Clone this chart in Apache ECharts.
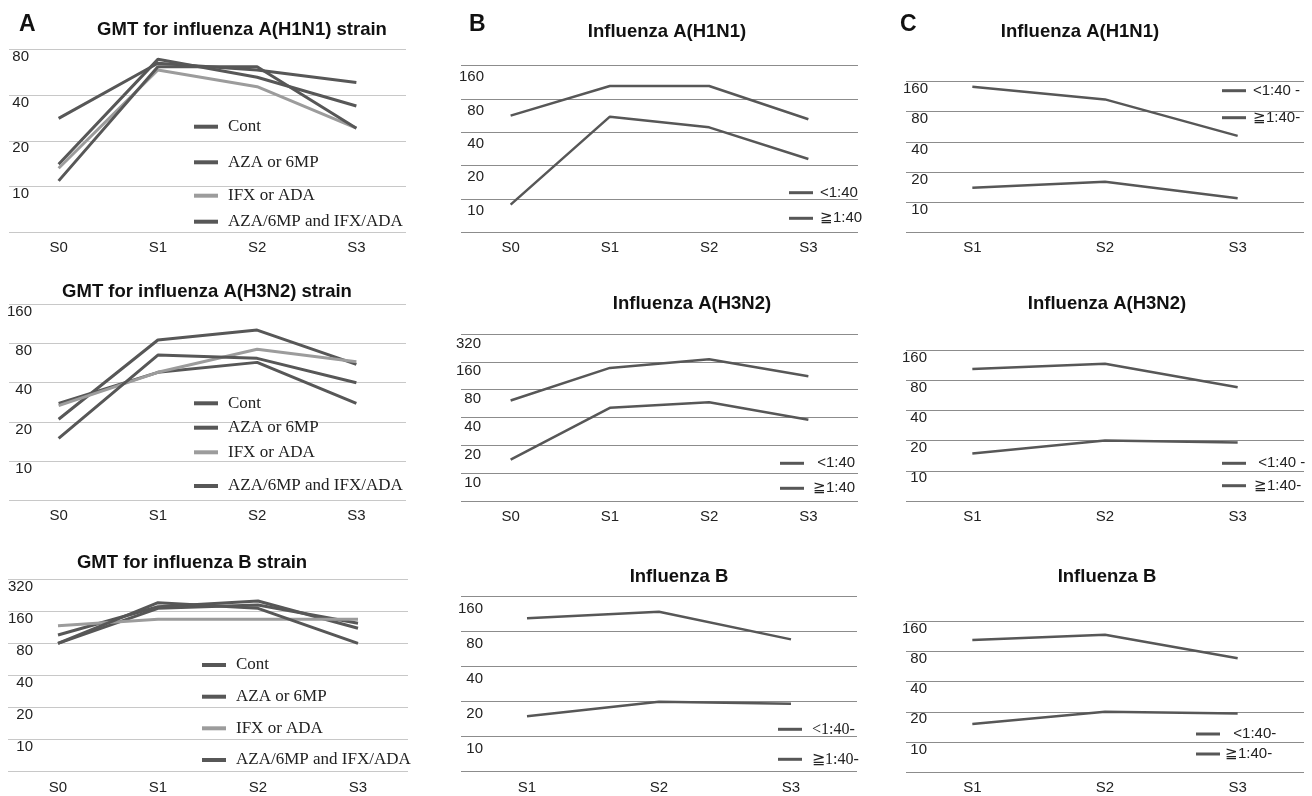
<!DOCTYPE html>
<html><head><meta charset="utf-8">
<script src="https://cdn.jsdelivr.net/npm/echarts@6/dist/echarts.min.js"></script>
<style>html,body{margin:0;padding:0;background:#fff}#c{width:1312px;height:796px}</style>
</head><body><div id="c"></div>
<script>
// ---------- data ----------
const catS0 = ['S0', 'S1', 'S2', 'S3'];
const catS1 = ['S1', 'S2', 'S3'];
const groupNames = ['Cont', 'AZA or 6MP', 'IFX or ADA', 'AZA/6MP and IFX/ADA'];
const titerNames = ['<1:40', '≧1:40'];

const ticks80 = ['', '10', '20', '40', '80'];
const ticks160 = ['', '10', '20', '40', '80', '160'];
const ticks320 = ['', '10', '20', '40', '80', '160', '320'];

// A: GMT by treatment group
const a1Cont = [28.1, 64.7, 58.5, 48.3];
const a1Aza = [14.0, 68.7, 52.4, 33.9];
const a1Ifx = [13.2, 58.5, 45.4, 24.2];
const a1Combo = [10.9, 61.5, 61.5, 24.2];

const a2Cont = [27.8, 48.0, 57.2, 27.8];
const a2Aza = [21.0, 84.8, 101, 55.3];
const a2Ifx = [26.7, 48.0, 72.0, 57.9];
const a2Combo = [15.0, 65.1, 61.4, 40];

const a3Cont = [80, 171, 184, 124];
const a3Aza = [96, 177, 200, 111];
const a3Ifx = [117, 135, 135, 135];
const a3Combo = [80, 193, 171, 80];

// B: by baseline titer
const b1Low = [8.9, 55.4, 44.4, 23.0];
const b1High = [56.6, 104.9, 104.9, 52.5];
const b2Low = [14.0, 50.9, 58.6, 37.8];
const b2High = [61.1, 137.5, 170.6, 111.8];
const b3Low = [15.0, 20.0, 19.2];
const b3High = [104.2, 118.9, 68.7];

// C
const c1Low = [14.0, 16.0, 11.0];
const c1High = [141.7, 106.1, 45.9];
const c2Low = [14.9, 20.0, 19.1];
const c2High = [103.4, 116.9, 67.9];
const c3Low = [15.1, 20.0, 19.2];
const c3High = [103.5, 117.0, 68.1];

// ---------- styling / layout ----------
const DARK = '#575757', LIGHT = '#9c9c9c';
const GRID_A = '#c8c8c8', GRID_BC = '#8c8c8c';
const lg = v => Math.log2(v / 5);

const panels = [
  { box: [9, 49.3, 397, 183], cats: catS0, ticks: ticks80, gc: GRID_A, lw: 3, ym: 20, yp: 0, xm: 8,
    series: [[groupNames[0], a1Cont, DARK], [groupNames[1], a1Aza, DARK], [groupNames[2], a1Ifx, LIGHT], [groupNames[3], a1Combo, DARK]] },
  { box: [9, 304, 397, 196.7], cats: catS0, ticks: ticks160, gc: GRID_A, lw: 3, ym: 23, yp: 0, xm: 8,
    series: [[groupNames[0], a2Cont, DARK], [groupNames[1], a2Aza, DARK], [groupNames[2], a2Ifx, LIGHT], [groupNames[3], a2Combo, DARK]] },
  { box: [8, 579.3, 400, 192.4], cats: catS0, ticks: ticks320, gc: GRID_A, lw: 3, ym: 25, yp: 0, xm: 9,
    series: [[groupNames[0], a3Cont, DARK], [groupNames[1], a3Aza, DARK], [groupNames[2], a3Ifx, LIGHT], [groupNames[3], a3Combo, DARK]] },
  { box: [461, 65.7, 397, 166.6], cats: catS0, ticks: ticks160, gc: GRID_BC, lw: 2.5, ym: 23, yp: 4, xm: 8,
    series: [[titerNames[0], b1Low, DARK], [titerNames[1], b1High, DARK]] },
  { box: [461, 334, 397, 167], cats: catS0, ticks: ticks320, gc: GRID_BC, lw: 2.5, ym: 20, yp: 2, xm: 8,
    series: [[titerNames[0], b2Low, DARK], [titerNames[1], b2High, DARK]] },
  { box: [461, 596.7, 396, 175], cats: catS1, ticks: ticks160, gc: GRID_BC, lw: 2.5, ym: 22, yp: 5, xm: 9,
    series: [[titerNames[0], b3Low, DARK], [titerNames[1], b3High, DARK]] },
  { box: [906, 81.5, 398, 151], cats: catS1, ticks: ticks160, gc: GRID_BC, lw: 2.5, ym: 22, yp: 0, xm: 8,
    series: [[titerNames[0], c1Low, DARK], [titerNames[1], c1High, DARK]] },
  { box: [906, 350, 398, 151], cats: catS1, ticks: ticks160, gc: GRID_BC, lw: 2.5, ym: 21, yp: 0, xm: 8,
    series: [[titerNames[0], c2Low, DARK], [titerNames[1], c2High, DARK]] },
  { box: [906, 621, 398, 151.3], cats: catS1, ticks: ticks160, gc: GRID_BC, lw: 2.5, ym: 21, yp: 0, xm: 8,
    series: [[titerNames[0], c3Low, DARK], [titerNames[1], c3High, DARK]] }
];

const grid = [], xAxis = [], yAxis = [], series = [];
panels.forEach((p, i) => {
  grid.push({ left: p.box[0], top: p.box[1], width: p.box[2], height: p.box[3], containLabel: false });
  xAxis.push({ type: 'category', gridIndex: i, data: p.cats, boundaryGap: true,
    axisLine: { show: false }, axisTick: { show: false },
    axisLabel: { margin: p.xm, fontSize: 15, color: '#222', fontFamily: 'Liberation Sans' } });
  yAxis.push({ type: 'value', gridIndex: i, min: 0, max: p.ticks.length - 1, interval: 1,
    axisLine: { show: false }, axisTick: { show: false },
    splitLine: { show: true, lineStyle: { color: p.gc, width: 1.2 } },
    axisLabel: { inside: true, align: 'right', verticalAlign: 'top', margin: p.ym, padding: [p.yp, 0, 0, 0],
      fontSize: 15, color: '#222', fontFamily: 'Liberation Sans',
      formatter: v => p.ticks[Math.round(v)] || '' } });
  p.series.forEach(s => series.push({ type: 'line', name: s[0], xAxisIndex: i, yAxisIndex: i,
    data: s[1].map(lg), symbol: 'none', silent: true,
    lineStyle: { color: s[2], width: p.lw }, itemStyle: { color: s[2] } }));
});

const titleStyle = { fontSize: 18.5, fontWeight: 'bold', fontFamily: 'Liberation Sans', color: '#111' };
const letterStyle = { fontSize: 23, fontWeight: 'bold', fontFamily: 'Liberation Sans', color: '#111' };
const title = [
  { text: 'A', left: 19, top: 13, padding: 0, textStyle: letterStyle },
  { text: 'B', left: 469, top: 13, padding: 0, textStyle: letterStyle },
  { text: 'C', left: 900, top: 13, padding: 0, textStyle: letterStyle },
  { text: 'GMT for influenza A(H1N1) strain', left: 242, top: 20, textAlign: 'center', padding: 0, textStyle: titleStyle },
  { text: 'GMT for influenza A(H3N2) strain', left: 207, top: 282.5, textAlign: 'center', padding: 0, textStyle: titleStyle },
  { text: 'GMT for influenza B strain', left: 192, top: 553.5, textAlign: 'center', padding: 0, textStyle: titleStyle },
  { text: 'Influenza A(H1N1)', left: 667, top: 22.5, textAlign: 'center', padding: 0, textStyle: titleStyle },
  { text: 'Influenza A(H3N2)', left: 692, top: 294, textAlign: 'center', padding: 0, textStyle: titleStyle },
  { text: 'Influenza B', left: 679, top: 567, textAlign: 'center', padding: 0, textStyle: titleStyle },
  { text: 'Influenza A(H1N1)', left: 1080, top: 22.5, textAlign: 'center', padding: 0, textStyle: titleStyle },
  { text: 'Influenza A(H3N2)', left: 1107, top: 294, textAlign: 'center', padding: 0, textStyle: titleStyle },
  { text: 'Influenza B', left: 1107, top: 567, textAlign: 'center', padding: 0, textStyle: titleStyle }
];

const legendSpecs = [
  { names: groupNames, left: 194, centers: [126.7, 162.3, 195.7, 221.7], font: 'Liberation Serif', size: 17, pad: 5, ih: 4, labels: groupNames },
  { names: groupNames, left: 194, centers: [403.3, 427.7, 452.3, 486], font: 'Liberation Serif', size: 17, pad: 5, ih: 4, labels: groupNames },
  { names: groupNames, left: 202, centers: [665, 696.7, 728.3, 760], font: 'Liberation Serif', size: 17, pad: 5, ih: 4, labels: groupNames },
  { names: titerNames, left: 789, centers: [192.7, 218.3], font: 'Liberation Sans', size: 15, pad: 2, ih: 3, labels: ['<1:40', '≧1:40'] },
  { names: titerNames, left: 780, centers: [463.3, 488.3], font: 'Liberation Sans', size: 15, pad: 4, ih: 3, labels: [' <1:40', '≧1:40'] },
  { names: titerNames, left: 778, centers: [729.3, 759.3], font: 'Liberation Serif', size: 16, pad: 5, ih: 3, labels: ['<1:40-', '≧1:40-'] },
  { names: titerNames, left: 1222, centers: [90.7, 117.7], font: 'Liberation Sans', size: 15, pad: 2, ih: 3, labels: ['<1:40 -', '≧1:40-'] },
  { names: titerNames, left: 1222, centers: [463.3, 485.7], font: 'Liberation Sans', size: 15, pad: 3, ih: 3, labels: [' <1:40 -', '≧1:40-'] },
  { names: titerNames, left: 1196, centers: [734, 754], font: 'Liberation Sans', size: 15, pad: 0, ih: 3, labels: ['  <1:40-', '≧1:40-'] }
];
const legend = [];
legendSpecs.forEach(L => {
  L.names.forEach((n, k) => {
    legend.push({ data: [n], left: L.left, top: L.centers[k] - L.size / 2, orient: 'vertical', padding: 0,
      itemWidth: 24, itemHeight: L.ih, icon: 'rect', selectedMode: false,
      formatter: () => L.labels[k],
      textStyle: { fontFamily: L.font, fontSize: L.size, color: '#222', padding: [0, 0, 0, L.pad] } });
  });
});

const chart = echarts.init(document.getElementById('c'), null, { renderer: 'canvas' });
chart.setOption({ animation: false, backgroundColor: '#fff', title, legend, grid, xAxis, yAxis, series });
</script></body></html>
